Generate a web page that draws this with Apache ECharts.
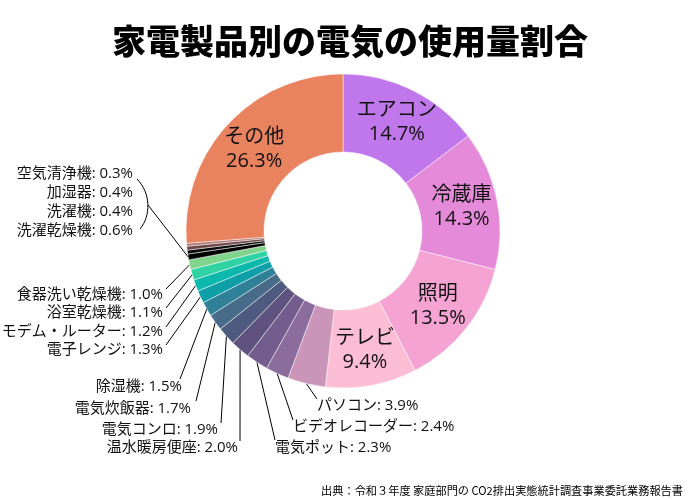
<!DOCTYPE html>
<html><head><meta charset="utf-8">
<script src="https://cdn.jsdelivr.net/npm/echarts@6/dist/echarts.min.js"></script>
<style>html,body{margin:0;padding:0;background:#fff}#c{width:700px;height:500px}</style>
</head><body><div id="c"></div>
<script>
const names = ['エアコン','冷蔵庫','照明','テレビ','パソコン','ビデオレコーダー','電気ポット','温水暖房便座','電気コンロ','電気炊飯器','除湿機','電子レンジ','モデム・ルーター','浴室乾燥機','食器洗い乾燥機','洗濯乾燥機','洗濯機','加湿器','空気清浄機','その他'];
const values = [14.7,14.3,13.5,9.4,3.9,2.4,2.3,2.0,1.9,1.7,1.5,1.3,1.2,1.1,1.0,0.6,0.4,0.4,0.3,26.3];
const colors = ['#c077eb','#e48ad9','#f5a3d3','#fdbdd4','#c995b8','#8c6c9c','#735d8e','#5f527e','#4f5a80','#476b89','#2f8197','#0d9ea7','#0bb8ac','#2fd2a2','#80d48c','#000000','#0a0a0a','#6e4848','#b07a78','#e8825f'];
const insideIdx = [0,1,2,3,19];
const FONT = "'Open Sans','Noto Sans CJK JP',sans-serif";

// label placements for outside labels: [x, y, align, lineEndX, lineEndY]
const labelPos = {
  4:[317,406,'left',317,399],
  5:[293,427,'left',293,420],
  6:[275,448,'left',275,440],
  7:[238,448,'right',240,441],
  8:[218,430,'right',221,423],
  9:[191,409,'right',196,401],
  10:[182,387,'right',180,379],
  11:[163,350,'right',166,345],
  12:[163,332,'right',166,327],
  13:[163,313,'right',166,308],
  14:[163,295,'right',166,289],
  15:[133,231,'right',148,205],
  16:[133,212,'right',null,null],
  17:[133,193,'right',null,null],
  18:[133,174,'right',null,null]
};

const data = names.map((n,i)=>{
  const inside = insideIdx.includes(i);
  return {
    name:n, value:values[i],
    itemStyle:{color:colors[i]},
    label: inside ? {position:'inside', fontSize:20, lineHeight:24, color:'#111',
                     formatter:(p)=>p.name+'\n'+p.value.toFixed(1)+'%'}
                  : {position:'outside', fontSize:15, color:'#111',
                     formatter:(p)=>p.name+': '+p.value.toFixed(1)+'%'},
    labelLine: {show: !inside && (i<16), lineStyle:{color:'#000', width:1}}
  };
});

const chart = echarts.init(document.getElementById('c'));
chart.setOption({
  animation:false,
  title:[{
    text:'家電製品別の電気の使用量割合', left:'center', top:19,
    textStyle:{fontSize:34, fontWeight:900, color:'#000', fontFamily:"'Noto Sans CJK JP',sans-serif"}
  },{
    text:'出典：令和３年度 家庭部門の CO2排出実態統計調査事業委託業務報告書', right:12, top:480,
    textStyle:{fontSize:11.2, fontWeight:'normal', color:'#000', fontFamily:"'Noto Sans CJK JP',sans-serif"}
  }],
  graphic:[{
    type:'bezierCurve',
    shape:{x1:137,y1:179,cpx1:151,cpy1:193,cpx2:151,cpy2:216,x2:140,y2:229},
    style:{stroke:'#000', lineWidth:1, fill:null}
  }],
  series:[{
    type:'pie',
    center:[343,231],
    radius:[79,157],
    startAngle:90,
    clockwise:true,
    avoidLabelOverlap:false,
    itemStyle:{borderColor:'rgba(255,255,255,0.8)', borderWidth:0.6},
    label:{fontFamily:FONT},
    labelLine:{length:10,length2:10,smooth:false},
    labelLayout:function(p){
      const lp = labelPos[p.dataIndex];
      if(!lp) return {};
      const out = {x:lp[0], y:lp[1], align:lp[2], verticalAlign:'middle'};
      if(lp[3]!=null && p.labelLinePoints){
        const e = p.labelLinePoints[0];
        out.labelLinePoints = [e, [lp[3],lp[4]], [lp[3],lp[4]]];
      }
      return out;
    },
    data:data
  }]
});
</script></body></html>
